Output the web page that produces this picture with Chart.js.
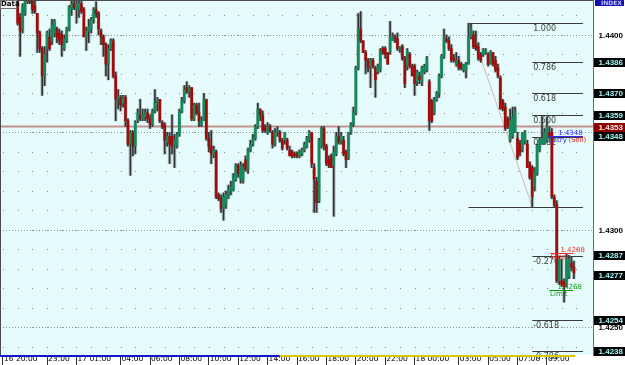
<!DOCTYPE html>
<html>
<head>
<meta charset="utf-8">
<script src="https://cdn.jsdelivr.net/npm/chart.js@4.4.0/dist/chart.umd.min.js"></script>
<style>
html, body { margin: 0; padding: 0; background: #ffffff; }
#wrap { width: 625px; height: 365px; }
</style>
</head>
<body>
<div id="wrap"><canvas id="chart" width="625" height="365"></canvas></div>
<script>
// 10 minute candles, 16 21:00 .. 18 10:50
var opens = [1.4420,1.4409,1.4403,1.4411,1.4417,1.4419,1.4418,1.4415,1.4411,1.4401,
  1.4393,1.4379,1.4393,1.4399,1.4397,1.4401,1.4403,1.4401,1.4400,1.4393,
  1.4397,1.4403,1.4413,1.4416,1.4413,1.4413,1.4416,1.4413,1.4399,1.4402,
  1.4403,1.4408,1.4413,1.4411,1.4402,1.4399,1.4395,1.4385,1.4393,1.4397,
  1.4379,1.4367,1.4368,1.4365,1.4368,1.4356,1.4344,1.4350,1.4343,1.4356,
  1.4359,1.4357,1.4358,1.4360,1.4357,1.4354,1.4361,1.4365,1.4367,1.4355,
  1.4354,1.4345,1.4348,1.4348,1.4343,1.4343,1.4349,1.4361,1.4366,1.4373,
  1.4371,1.4373,1.4357,1.4364,1.4360,1.4354,1.4356,1.4367,1.4347,1.4343,
  1.4339,1.4340,1.4318,1.4316,1.4311,1.4313,1.4317,1.4320,1.4320,1.4326,
  1.4333,1.4326,1.4325,1.4336,1.4331,1.4341,1.4344,1.4347,1.4353,1.4362,
  1.4359,1.4353,1.4350,1.4353,1.4350,1.4344,1.4350,1.4350,1.4346,1.4346,
  1.4346,1.4341,1.4340,1.4339,1.4339,1.4338,1.4339,1.4341,1.4343,1.4346,
  1.4350,1.4332,1.4325,1.4315,1.4343,1.4352,1.4343,1.4336,1.4338,1.4333,
  1.4339,1.4348,1.4345,1.4346,1.4340,1.4337,1.4350,1.4354,1.4360,1.4383,
  1.4403,1.4397,1.4391,1.4387,1.4384,1.4387,1.4383,1.4381,1.4382,1.4393,
  1.4393,1.4391,1.4391,1.4397,1.4399,1.4398,1.4393,1.4394,1.4388,1.4384,
  1.4390,1.4384,1.4384,1.4376,1.4379,1.4376,1.4381,1.4382,1.4376,1.4366,
  1.4360,1.4367,1.4370,1.4379,1.4389,1.4398,1.4397,1.4393,1.4388,1.4385,
  1.4387,1.4385,1.4382,1.4382,1.4385,1.4399,1.4400,1.4395,1.4394,1.4390,
  1.4390,1.4391,1.4390,1.4385,1.4391,1.4387,1.4383,1.4378,1.4366,1.4363,
  1.4357,1.4346,1.4348,1.4350,1.4347,1.4344,1.4341,1.4345,1.4344,1.4334,
  1.4332,1.4322,1.4329,1.4341,1.4344,1.4344,1.4346,1.4350,1.4350,1.4317,
  1.4313,1.4274,1.4274,1.4273,1.4273,1.4276,1.4283,1.4281];
var highs = [1.4423,1.4411,1.4416,1.4420,1.4420,1.4420,1.4419,1.4418,1.4411,1.4402,
  1.4394,1.4394,1.4402,1.4403,1.4408,1.4408,1.4404,1.4403,1.4402,1.4400,
  1.4404,1.4415,1.4419,1.4419,1.4418,1.4420,1.4418,1.4414,1.4404,1.4408,
  1.4409,1.4414,1.4417,1.4412,1.4403,1.4400,1.4396,1.4395,1.4398,1.4398,
  1.4381,1.4372,1.4369,1.4369,1.4369,1.4357,1.4351,1.4351,1.4356,1.4362,
  1.4367,1.4362,1.4362,1.4362,1.4359,1.4362,1.4372,1.4368,1.4367,1.4356,
  1.4355,1.4350,1.4350,1.4359,1.4349,1.4350,1.4362,1.4368,1.4374,1.4376,
  1.4374,1.4373,1.4365,1.4365,1.4365,1.4358,1.4370,1.4367,1.4350,1.4351,
  1.4343,1.4341,1.4319,1.4318,1.4319,1.4320,1.4323,1.4325,1.4329,1.4334,
  1.4334,1.4335,1.4334,1.4338,1.4342,1.4346,1.4349,1.4354,1.4365,1.4362,
  1.4361,1.4354,1.4355,1.4354,1.4351,1.4352,1.4353,1.4351,1.4347,1.4350,
  1.4347,1.4343,1.4341,1.4340,1.4340,1.4341,1.4342,1.4345,1.4348,1.4351,
  1.4350,1.4334,1.4327,1.4347,1.4353,1.4353,1.4344,1.4338,1.4339,1.4343,
  1.4350,1.4353,1.4350,1.4348,1.4341,1.4350,1.4355,1.4363,1.4384,1.4411,
  1.4412,1.4397,1.4392,1.4388,1.4388,1.4388,1.4384,1.4385,1.4393,1.4394,
  1.4394,1.4391,1.4407,1.4401,1.4400,1.4401,1.4394,1.4395,1.4389,1.4393,
  1.4391,1.4385,1.4385,1.4382,1.4381,1.4384,1.4385,1.4389,1.4377,1.4367,
  1.4368,1.4371,1.4380,1.4390,1.4403,1.4400,1.4399,1.4395,1.4390,1.4391,
  1.4389,1.4386,1.4385,1.4386,1.4406,1.4406,1.4402,1.4402,1.4396,1.4391,
  1.4393,1.4393,1.4391,1.4392,1.4391,1.4389,1.4385,1.4379,1.4367,1.4365,
  1.4358,1.4362,1.4363,1.4363,1.4350,1.4346,1.4350,1.4351,1.4346,1.4335,
  1.4333,1.4332,1.4344,1.4347,1.4358,1.4352,1.4358,1.4353,1.4352,1.4318,
  1.4315,1.4286,1.4285,1.4275,1.4288,1.4287,1.4286,1.4284];
var lows = [1.4405,1.4389,1.4401,1.4410,1.4416,1.4416,1.4411,1.4411,1.4391,1.4391,
  1.4369,1.4374,1.4386,1.4392,1.4395,1.4399,1.4396,1.4395,1.4389,1.4392,
  1.4396,1.4402,1.4410,1.4413,1.4406,1.4409,1.4411,1.4399,1.4392,1.4396,
  1.4401,1.4406,1.4409,1.4400,1.4395,1.4389,1.4379,1.4377,1.4392,1.4378,
  1.4356,1.4362,1.4361,1.4363,1.4353,1.4343,1.4328,1.4338,1.4339,1.4355,
  1.4356,1.4356,1.4356,1.4355,1.4352,1.4353,1.4360,1.4361,1.4355,1.4352,
  1.4339,1.4343,1.4334,1.4339,1.4332,1.4342,1.4348,1.4360,1.4365,1.4370,
  1.4368,1.4356,1.4356,1.4359,1.4353,1.4353,1.4356,1.4346,1.4340,1.4334,
  1.4337,1.4316,1.4315,1.4309,1.4305,1.4311,1.4316,1.4318,1.4320,1.4325,
  1.4327,1.4324,1.4324,1.4330,1.4329,1.4340,1.4343,1.4346,1.4352,1.4356,
  1.4350,1.4350,1.4349,1.4350,1.4342,1.4343,1.4348,1.4345,1.4341,1.4344,
  1.4341,1.4338,1.4337,1.4337,1.4337,1.4337,1.4338,1.4340,1.4342,1.4345,
  1.4332,1.4309,1.4309,1.4314,1.4342,1.4341,1.4333,1.4332,1.4332,1.4307,
  1.4338,1.4344,1.4344,1.4338,1.4332,1.4336,1.4349,1.4353,1.4359,1.4382,
  1.4396,1.4391,1.4380,1.4381,1.4373,1.4383,1.4368,1.4380,1.4381,1.4390,
  1.4388,1.4385,1.4390,1.4397,1.4396,1.4392,1.4391,1.4387,1.4373,1.4382,
  1.4383,1.4379,1.4369,1.4374,1.4375,1.4374,1.4380,1.4381,1.4351,1.4355,
  1.4359,1.4366,1.4368,1.4378,1.4388,1.4396,1.4392,1.4386,1.4386,1.4384,
  1.4382,1.4382,1.4381,1.4378,1.4385,1.4398,1.4393,1.4392,1.4387,1.4386,
  1.4389,1.4390,1.4384,1.4385,1.4384,1.4381,1.4378,1.4362,1.4361,1.4351,
  1.4352,1.4345,1.4347,1.4350,1.4336,1.4338,1.4340,1.4344,1.4332,1.4326,
  1.4312,1.4320,1.4328,1.4340,1.4344,1.4344,1.4345,1.4347,1.4316,1.4312,
  1.4273,1.4272,1.4271,1.4263,1.4271,1.4275,1.4279,1.4275];
var closes = [1.4406,1.4402,1.4415,1.4418,1.4419,1.4417,1.4413,1.4412,1.4401,1.4393,
  1.4379,1.4390,1.4401,1.4393,1.4405,1.4407,1.4399,1.4397,1.4395,1.4398,
  1.4403,1.4414,1.4416,1.4414,1.4416,1.4416,1.4412,1.4399,1.4402,1.4404,
  1.4408,1.4413,1.4411,1.4403,1.4399,1.4395,1.4385,1.4393,1.4397,1.4379,
  1.4367,1.4368,1.4364,1.4368,1.4356,1.4344,1.4350,1.4343,1.4355,1.4360,
  1.4357,1.4359,1.4360,1.4357,1.4354,1.4361,1.4365,1.4367,1.4356,1.4353,
  1.4346,1.4348,1.4344,1.4343,1.4346,1.4349,1.4361,1.4366,1.4372,1.4371,
  1.4373,1.4357,1.4364,1.4360,1.4356,1.4356,1.4367,1.4347,1.4343,1.4339,
  1.4341,1.4317,1.4316,1.4311,1.4317,1.4318,1.4321,1.4322,1.4327,1.4333,
  1.4329,1.4333,1.4332,1.4331,1.4341,1.4344,1.4347,1.4353,1.4362,1.4359,
  1.4351,1.4351,1.4353,1.4351,1.4344,1.4350,1.4351,1.4346,1.4342,1.4350,
  1.4342,1.4338,1.4338,1.4338,1.4338,1.4340,1.4341,1.4344,1.4347,1.4350,
  1.4334,1.4326,1.4314,1.4346,1.4352,1.4343,1.4334,1.4333,1.4332,1.4340,
  1.4348,1.4345,1.4348,1.4339,1.4336,1.4350,1.4354,1.4360,1.4383,1.4403,
  1.4397,1.4391,1.4387,1.4383,1.4387,1.4384,1.4377,1.4384,1.4392,1.4391,
  1.4390,1.4385,1.4399,1.4399,1.4398,1.4393,1.4394,1.4388,1.4375,1.4392,
  1.4384,1.4379,1.4375,1.4381,1.4377,1.4383,1.4384,1.4388,1.4356,1.4356,
  1.4367,1.4370,1.4379,1.4389,1.4398,1.4397,1.4393,1.4387,1.4387,1.4387,
  1.4383,1.4383,1.4385,1.4385,1.4399,1.4403,1.4394,1.4393,1.4388,1.4387,
  1.4392,1.4392,1.4385,1.4391,1.4385,1.4382,1.4379,1.4362,1.4362,1.4352,
  1.4353,1.4356,1.4358,1.4361,1.4337,1.4340,1.4350,1.4350,1.4332,1.4327,
  1.4317,1.4330,1.4343,1.4346,1.4347,1.4350,1.4353,1.4348,1.4317,1.4313,
  1.4274,1.4285,1.4272,1.4271,1.4285,1.4285,1.4281,1.4278];

// time axis: candle index of each label
var tickIdx = [-6, 12, 24, 42, 54, 66, 78, 90, 102, 114, 126, 138, 150, 162, 180, 192, 204, 216];
var tickLabels = ['16 20:00', '23:00', '17 01:00', '04:00', '06:00', '08:00', '10:00', '12:00', '14:00',
  '16:00', '18:00', '20:00', '22:00', '18 00:00', '03:00', '05:00', '07:00', '09:00'];

// fibonacci retracement, from the high candle to the low candle
var fibHigh = 1.4406, fibHighIdx = 184;
var fibLow = 1.4312, fibLowIdx = 210;
var fibRatios = [1, 0.786, 0.618, 0.5, 0.382, 0, -0.27, -0.618, -0.786];
var fibLabels = ['1.000', '0.786', '0.618', '0.500', '0.382', '', '-0.270', '-0.618', '-0.786'];

// order lines
var entryPrice = 1.4348, stopPrice = 1.4288, limitPrice = 1.4269;
var levelLine = 1.4353;

// right hand price tags
var boxPrices = [1.4386, 1.4370, 1.4359, 1.4348, 1.4287, 1.4277, 1.4254, 1.4238];
var redBoxPrices = [1.4353];
var plainPrices = [1.4400, 1.4300, 1.4250];

var yMax = 1.44179, yMin = 1.42359;
var xMin = -7.22, xMax = 234.8;

var bull = '#138a5c', bear = '#a30a0a';

function pts(a, b) {
  return opens.map(function (o, i) { return { x: i, y: [a[i], b[i]] }; });
}

var deco = {
  id: 'deco',
  beforeDraw: function (chart) {
    var ctx = chart.ctx, a = chart.chartArea, xs = chart.scales.x, ys = chart.scales.y;
    ctx.save();
    ctx.fillStyle = '#ffffff';
    ctx.fillRect(0, 0, chart.width, chart.height);
    ctx.fillStyle = '#e6fcfc';
    ctx.fillRect(a.left, a.top, a.right - a.left, a.bottom - a.top);

    // dotted price lines every 50 pips
    ctx.strokeStyle = '#8c9696';
    ctx.lineWidth = 1;
    ctx.setLineDash([1, 2]);
    [1.440, 1.435, 1.430, 1.425].forEach(function (p) {
      var y = Math.round(ys.getPixelForValue(p)) + 0.5;
      ctx.beginPath(); ctx.moveTo(a.left, y); ctx.lineTo(a.right, y); ctx.stroke();
    });
    ctx.setLineDash([]);

    // dot grid: every 10 pips, every hour
    ctx.fillStyle = '#7f8c8c';
    for (var k = 1424; k <= 1441; k++) {
      var y = Math.round(ys.getPixelForValue(k / 1000));
      for (var i = -6; i <= 228; i += 6) {
        var x = Math.round(xs.getPixelForValue(i));
        ctx.fillRect(x, y, 1, 1);
      }
    }

    // brown level line
    ctx.strokeStyle = 'rgba(185,110,110,0.75)';
    ctx.lineWidth = 2;
    var yl = ys.getPixelForValue(levelLine);
    ctx.beginPath(); ctx.moveTo(a.left, yl); ctx.lineTo(a.right, yl); ctx.stroke();
    ctx.restore();
  },
  beforeDatasetsDraw: function (chart) {
    var ctx = chart.ctx, xs = chart.scales.x, ys = chart.scales.y;
    ctx.save();
    var xEnd = xs.getPixelForValue(230.7);
    var xMid = xs.getPixelForValue(fibLowIdx);
    var xStart = xs.getPixelForValue(fibHighIdx);

    ctx.strokeStyle = 'rgba(205,175,175,0.9)';
    ctx.lineWidth = 1;
    ctx.beginPath();
    ctx.moveTo(xStart, ys.getPixelForValue(fibHigh));
    ctx.lineTo(xMid, ys.getPixelForValue(fibLow));
    ctx.stroke();

    ctx.strokeStyle = '#3c3c3c';
    ctx.fillStyle = '#3c3c3c';
    ctx.font = '8px "DejaVu Sans"';
    ctx.textBaseline = 'top';
    ctx.textAlign = 'left';
    fibRatios.forEach(function (r, j) {
      var p = fibLow + r * (fibHigh - fibLow);
      var y = Math.round(ys.getPixelForValue(p)) + 0.5;
      var x0 = (r === 1 || r === 0) ? xStart : xMid;
      ctx.beginPath(); ctx.moveTo(x0, y); ctx.lineTo(xEnd, y); ctx.stroke();
      if (fibLabels[j]) ctx.fillText(fibLabels[j], xMid + 1, y + 1.5);
    });
    ctx.restore();
  },
  afterDatasetsDraw: function (chart) {
    var ctx = chart.ctx, xs = chart.scales.x, ys = chart.scales.y;
    ctx.save();
    ctx.font = '7px "DejaVu Sans"';
    ctx.textAlign = 'left';

    function order(price, x0, x1, color, txt, tx, name, nx) {
      var y = Math.round(ys.getPixelForValue(price)) + 0.5;
      ctx.strokeStyle = color; ctx.lineWidth = 1;
      ctx.beginPath(); ctx.moveTo(xs.getPixelForValue(x0), y); ctx.lineTo(xs.getPixelForValue(x1), y); ctx.stroke();
      ctx.fillStyle = color;
      ctx.textBaseline = 'bottom';
      ctx.fillText(txt, xs.getPixelForValue(tx), y);
      ctx.textBaseline = 'top';
      ctx.fillText(name, xs.getPixelForValue(nx), y + 0.5);
    }
    order(entryPrice, 217, 230.7, '#2a2aff', '1.4348', 220.6, 'Entry', 216.5);
    ctx.fillStyle = '#e02020';
    ctx.textBaseline = 'top';
    ctx.fillText('(Sell)', xs.getPixelForValue(216.5) + 20, Math.round(ys.getPixelForValue(entryPrice)) + 1);
    order(stopPrice, 217.3, 226.7, '#ff3030', '1.4288', 221.5, 'Stop', 217.5);
    order(limitPrice, 217, 226.7, '#109a10', '1.4268', 220.3, 'Limit', 217.3);
    ctx.restore();
  },
  afterDraw: function (chart) {
    var ctx = chart.ctx, a = chart.chartArea, xs = chart.scales.x, ys = chart.scales.y;
    ctx.save();
    // frame
    ctx.fillStyle = '#4a4a4a';
    ctx.fillRect(0, 0, a.right, 1);
    ctx.fillRect(0, 0, 1, a.bottom);
    ctx.fillStyle = '#6a6a6a';
    ctx.fillRect(a.right, 0, 1, a.bottom + 1);

    // session band under the plot
    ctx.fillStyle = '#1414c8';
    ctx.fillRect(0, a.bottom, xs.getPixelForValue(107) , 2);
    ctx.fillStyle = '#d8c800';
    ctx.fillRect(xs.getPixelForValue(107), a.bottom, xs.getPixelForValue(227.6) - xs.getPixelForValue(107), 2);

    // price tags
    ctx.font = 'bold 8px "Liberation Sans"';
    ctx.textAlign = 'right';
    ctx.textBaseline = 'middle';
    function tag(p, bg, fg) {
      var y = Math.round(ys.getPixelForValue(p));
      if (bg) { ctx.fillStyle = bg; ctx.fillRect(a.right + 1, y - 4, chart.width - a.right - 1, 9); }
      ctx.fillStyle = fg;
      ctx.fillText(p.toFixed(4), chart.width - 2, y + 0.5);
    }
    plainPrices.forEach(function (p) { tag(p, null, '#000000'); });
    boxPrices.forEach(function (p) { tag(p, '#000000', '#9ff4f4'); });
    redBoxPrices.forEach(function (p) { tag(p, '#8a0000', '#ffe0e0'); });

    // INDEX tag
    ctx.fillStyle = '#1010b0';
    ctx.fillRect(a.right + 2, 0, chart.width - a.right - 3, 6);
    ctx.fillStyle = '#c8c8ff';
    ctx.font = 'bold 6px "DejaVu Sans"';
    ctx.textAlign = 'right';
    ctx.textBaseline = 'bottom';
    ctx.fillText('INDEX', chart.width - 3, 6);

    // Data label
    ctx.fillStyle = '#f4f4f4';
    ctx.fillRect(0, 0, 17, 9);
    ctx.strokeStyle = '#707070';
    ctx.lineWidth = 1;
    ctx.strokeRect(0.5, 0.5, 16, 8);
    ctx.fillStyle = '#000000';
    ctx.font = 'bold 7px "DejaVu Sans"';
    ctx.textAlign = 'left';
    ctx.textBaseline = 'top';
    ctx.fillText('Data', 1, 1);
    ctx.restore();
  }
};

new Chart(document.getElementById('chart'), {
  type: 'bar',
  data: {
    datasets: [
      {
        data: pts(lows, highs), grouped: false, barThickness: 3, order: 3,
        backgroundColor: 'rgba(120,135,135,0.45)', borderWidth: 0
      },
      {
        data: pts(lows, highs), grouped: false, barThickness: 1, order: 2,
        backgroundColor: '#333333', borderWidth: 0
      },
      {
        data: pts(opens, closes), grouped: false, barThickness: 2, order: 1, minBarLength: 1,
        backgroundColor: function (c) {
          var i = c.dataIndex;
          return closes[i] >= opens[i] ? bull : bear;
        },
        borderWidth: 0
      }
    ]
  },
  options: {
    responsive: false,
    devicePixelRatio: 1,
    animation: false,
    events: [],
    layout: { padding: 0 },
    plugins: { legend: { display: false }, tooltip: { enabled: false } },
    scales: {
      x: {
        type: 'linear', min: xMin, max: xMax, offset: false,
        afterBuildTicks: function (s) { s.ticks = tickIdx.map(function (v) { return { value: v }; }); },
        afterFit: function (s) { s.height = 10; },
        grid: { drawOnChartArea: false, drawTicks: true, tickLength: 10, color: '#303030', offset: false },
        border: { display: false },
        ticks: {
          autoSkip: false, maxRotation: 0, minRotation: 0, align: 'start', padding: -10, labelOffset: 1,
          color: '#000000', font: { family: 'DejaVu Sans', size: 7.5 },
          callback: function (v, i) { return tickLabels[i]; }
        }
      },
      y: {
        position: 'right', min: yMin, max: yMax,
        afterFit: function (s) { s.width = 32; },
        grid: { display: false },
        border: { display: false },
        ticks: { display: false }
      }
    }
  },
  plugins: [deco]
});
</script>
</body>
</html>
